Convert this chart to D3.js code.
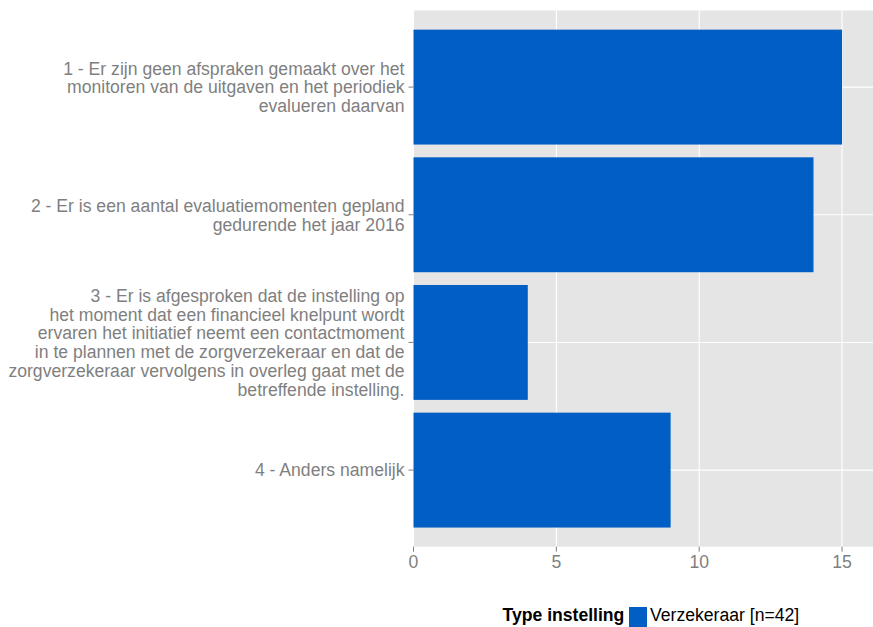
<!DOCTYPE html>
<html><head><meta charset="utf-8">
<script src="https://d3js.org/d3.v7.min.js"></script>
<style>body{margin:0;background:#fff;} text{font-family:"Liberation Sans",Arial,sans-serif;}</style>
</head><body>
<svg id="c" width="873" height="627"></svg>
<script>
const categories = [
  ["1 - Er zijn geen afspraken gemaakt over het","monitoren van de uitgaven en het periodiek","evalueren daarvan"],
  ["2 - Er is een aantal evaluatiemomenten gepland","gedurende het jaar 2016"],
  ["3 - Er is afgesproken dat de instelling op","het moment dat een financieel knelpunt wordt","ervaren het initiatief neemt een contactmoment","in te plannen met de zorgverzekeraar en dat de","zorgverzekeraar vervolgens in overleg gaat met de","betreffende instelling."],
  ["4 - Anders namelijk"]
];
const values = [15, 14, 4, 9];
const xTicks = [0, 5, 10, 15];
const legendTitle = "Type instelling";
const legendLabel = "Verzekeraar [n=42]";

(function(){
const svg = d3.select("#c");
const fs = 17.6;
const pL = 413.5, pR = 873, pT = 10.5, pB = 546.7;
const x = d3.scaleLinear().domain([0, (pR-pL)/28.57]).range([pL, pR]);
const y = d3.scaleBand().domain(d3.range(categories.length)).range([pT, pB]).paddingInner(0.1).paddingOuter(0.15);
const yc = i => y(i) + y.bandwidth()/2;

svg.append("rect").attr("x",pL).attr("y",pT).attr("width",pR-pL).attr("height",pB-pT).attr("fill","#e5e5e5");
svg.selectAll(".gx").data(xTicks).enter().append("line")
  .attr("x1",d=>x(d)).attr("x2",d=>x(d)).attr("y1",pT).attr("y2",pB).attr("stroke","#fff").attr("stroke-width",1.1);
svg.selectAll(".gy").data(categories).enter().append("line")
  .attr("x1",pL).attr("x2",pR).attr("y1",(d,i)=>yc(i)).attr("y2",(d,i)=>yc(i)).attr("stroke","#fff").attr("stroke-width",1.1);
svg.selectAll(".bar").data(values).enter().append("rect")
  .attr("x",x(0)).attr("y",(d,i)=>y(i)).attr("width",d=>x(d)-x(0)).attr("height",y.bandwidth()).attr("fill","#005ec4");
const xa = svg.append("g");
xTicks.forEach(t=>{
  xa.append("line").attr("x1",x(t)).attr("x2",x(t)).attr("y1",pB).attr("y2",pB+5).attr("stroke","#7f7f7f");
  xa.append("text").attr("x",x(t)).attr("y",pB+21.5).attr("text-anchor","middle").attr("font-size",fs).attr("fill","#7f7f7f").text(t);
});
const lh = 18.8;
categories.forEach((lines,i)=>{
  svg.append("line").attr("x1",pL-5).attr("x2",pL).attr("y1",yc(i)).attr("y2",yc(i)).attr("stroke","#7f7f7f");
  const n = lines.length;
  lines.forEach((l,j)=>{
    svg.append("text").attr("x",pL-9).attr("y",yc(i)+(j-(n-1)/2)*lh).attr("dy","0.36em")
      .attr("text-anchor","end").attr("font-size",fs).attr("fill","#7f7f7f").text(l);
  });
});
const lg = svg.append("g");
lg.append("text").attr("x",502.5).attr("y",620.5).attr("font-size",fs).attr("font-weight","bold").attr("fill","#000").text(legendTitle);
lg.append("rect").attr("x",629).attr("y",607).attr("width",18).attr("height",20).attr("fill","#005ec4");
lg.append("text").attr("x",650).attr("y",620.5).attr("font-size",fs).attr("fill","#000").text(legendLabel);
})();
</script>
</body></html>
